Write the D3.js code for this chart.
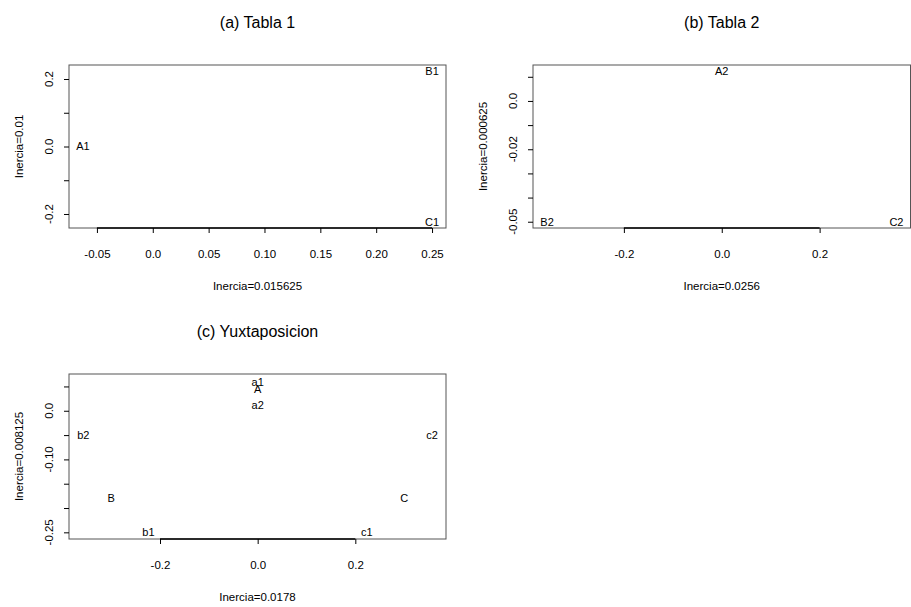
<!DOCTYPE html>
<html>
<head>
<meta charset="utf-8">
<script src="https://cdn.jsdelivr.net/npm/d3@7"></script>
<style>
  body { margin: 0; background: #fff; }
  svg text { font-family: "Liberation Sans", Arial, sans-serif; fill: #000; }
</style>
</head>
<body>
<svg id="chart" width="911" height="607"></svg>
<script>
// panel titles and axis titles
var titles = ["(a) Tabla 1", "(b) Tabla 2", "(c) Yuxtaposicion"];
var xTitles = ["Inercia=0.015625", "Inercia=0.0256", "Inercia=0.0178"];
var yTitles = ["Inercia=0.01", "Inercia=0.000625", "Inercia=0.008125"];

// point labels and coordinates
var labels1 = ["A1", "B1", "C1"];
var x1 = [-0.0625, 0.25, 0.25];
var y1 = [0, 0.2236, -0.2236];

var labels2 = ["A2", "B2", "C2"];
var x2 = [0, -0.357, 0.357];
var y2 = [0.0125, -0.05, -0.05];

var labels3 = ["A", "B", "C", "a1", "b1", "c1", "a2", "b2", "c2"];
var x3 = [0, -0.3, 0.3, 0, -0.2236, 0.2236, 0, -0.357, 0.357];
var y3 = [0.045, -0.18, -0.18, 0.06, -0.25, -0.25, 0.0125, -0.05, -0.05];

// axis limits
var xlims = [[-0.075, 0.2625], [-0.3857, 0.3857], [-0.3864, 0.3857]];
var ylims = [[-0.2415, 0.2415], [-0.0526, 0.01488], [-0.2637, 0.0756]];

// ticks and the labels R kept
var xTicks1 = [-0.05, 0, 0.05, 0.1, 0.15, 0.2, 0.25];
var xTickLabels1 = ["-0.05", "0.0", "0.05", "0.10", "0.15", "0.20", "0.25"];
var yTicks1 = [-0.2, -0.1, 0, 0.1, 0.2];
var yTickLabels1 = ["-0.2", "", "0.0", "", "0.2"];

var xTicks2 = [-0.2, 0, 0.2];
var xTickLabels2 = ["-0.2", "0.0", "0.2"];
var yTicks2 = [0.01, 0, -0.01, -0.02, -0.03, -0.04, -0.05];
var yTickLabels2 = ["", "0.0", "", "-0.02", "", "", "-0.05"];

var yTicks3 = [0.05, 0, -0.05, -0.1, -0.15, -0.2, -0.25];
var yTickLabels3 = ["", "0.0", "", "-0.10", "", "", "-0.25"];

var svg = d3.select("#chart");

var drawPanel = function(p) {
    var g = svg.append("g");
    var x = d3.scaleLinear().domain(p.xlim).range([p.left, p.right]);
    var y = d3.scaleLinear().domain(p.ylim).range([p.bottom, p.top]);

    g.append("rect")
	.attr("x", p.left).attr("y", p.top)
	.attr("width", p.right - p.left).attr("height", p.bottom - p.top)
	.attr("fill", "none").attr("stroke", "#555").attr("stroke-width", 1);

    // bottom axis
    var xa = g.append("g")
	.attr("transform", "translate(0," + p.bottom + ")")
	.call(d3.axisBottom(x).tickValues(p.xTicks).tickSize(5).tickPadding(17)
	      .tickFormat(function(d, i) { return p.xTickLabels[i]; }));
    xa.select(".domain").remove();
    xa.selectAll("text").style("font-size", "11.5px");
    g.append("line")
	.attr("x1", x(d3.min(p.xTicks))).attr("x2", x(d3.max(p.xTicks)))
	.attr("y1", p.bottom).attr("y2", p.bottom)
	.attr("stroke", "#000").attr("stroke-width", 1.5);

    // left axis, labels parallel to it
    var ya = g.append("g")
	.attr("transform", "translate(" + p.left + ",0)")
	.call(d3.axisLeft(y).tickValues(p.yTicks).tickSize(5).tickFormat(""));
    ya.select(".domain").remove();
    g.selectAll(".ylab").data(p.yTicks).enter().append("text")
	.attr("class", "ylab")
	.attr("transform", function(d) { return "translate(" + (p.left - 16) + "," + y(d) + ") rotate(-90)"; })
	.attr("text-anchor", "middle")
	.style("font-size", "11.5px")
	.text(function(d, i) { return p.yTickLabels[i]; });

    g.append("text")
	.attr("x", (p.left + p.right) / 2).attr("y", p.top - 37)
	.attr("text-anchor", "middle").style("font-size", "16px")
	.text(p.title);
    g.append("text")
	.attr("x", (p.left + p.right) / 2).attr("y", p.bottom + 62)
	.attr("text-anchor", "middle").style("font-size", "11.5px")
	.text(p.xTitle);
    g.append("text")
	.attr("transform", "translate(" + (p.left - 46) + "," + ((p.top + p.bottom) / 2) + ") rotate(-90)")
	.attr("text-anchor", "middle").style("font-size", "11.5px")
	.text(p.yTitle);

    g.selectAll(".pt").data(p.labels).enter().append("text")
	.attr("class", "pt")
	.attr("x", function(d, i) { return x(p.px[i]); })
	.attr("y", function(d, i) { return y(p.py[i]); })
	.attr("dy", "0.36em")
	.attr("text-anchor", "middle")
	.style("font-size", "11px")
	.text(function(d) { return d; });
};

drawPanel({left: 69, right: 446, top: 65, bottom: 228, xlim: xlims[0], ylim: ylims[0],
	   xTicks: xTicks1, xTickLabels: xTickLabels1, yTicks: yTicks1, yTickLabels: yTickLabels1,
	   title: titles[0], xTitle: xTitles[0], yTitle: yTitles[0], labels: labels1, px: x1, py: y1});
drawPanel({left: 533, right: 910.5, top: 65, bottom: 228, xlim: xlims[1], ylim: ylims[1],
	   xTicks: xTicks2, xTickLabels: xTickLabels2, yTicks: yTicks2, yTickLabels: yTickLabels2,
	   title: titles[1], xTitle: xTitles[1], yTitle: yTitles[1], labels: labels2, px: x2, py: y2});
drawPanel({left: 69, right: 446, top: 374, bottom: 539, xlim: xlims[2], ylim: ylims[2],
	   xTicks: xTicks2, xTickLabels: xTickLabels2, yTicks: yTicks3, yTickLabels: yTickLabels3,
	   title: titles[2], xTitle: xTitles[2], yTitle: yTitles[2], labels: labels3, px: x3, py: y3});
</script>
</body>
</html>
